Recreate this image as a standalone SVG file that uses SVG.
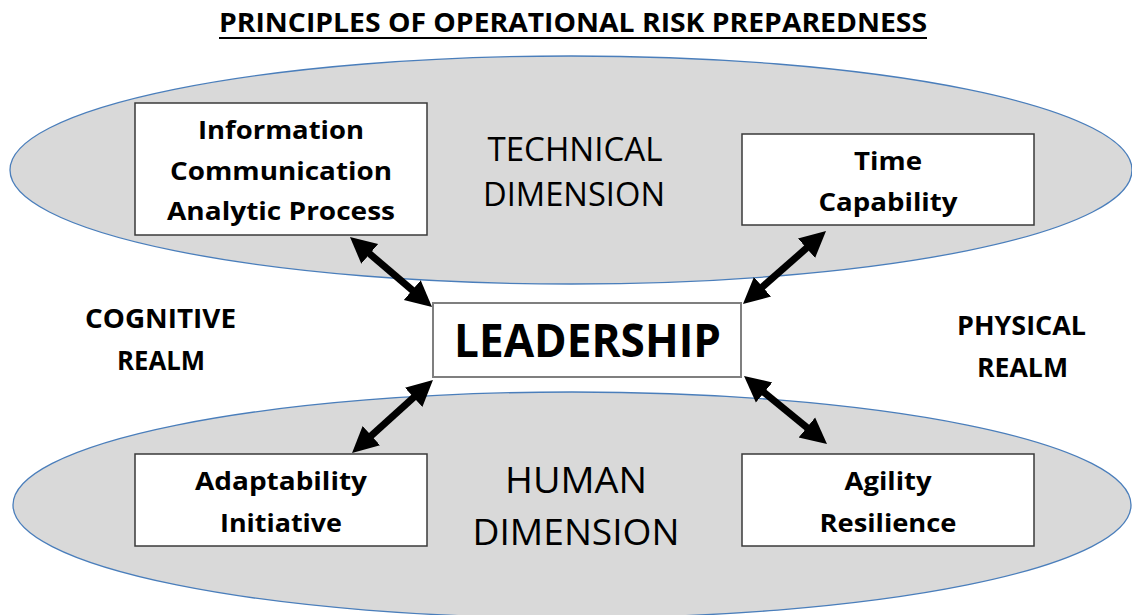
<svg xmlns="http://www.w3.org/2000/svg" width="1132" height="615" viewBox="0 0 1132 615">
<style>
.ell{fill:#d9d9d9;stroke:#4a7ebb;stroke-width:1.3}
.box{fill:#ffffff;stroke:#3a3a3a;stroke-width:1.5}
.lead{fill:#ffffff;stroke:#7f7f7f;stroke-width:2}
text{font-family:"Open Sans","Liberation Sans",sans-serif;fill:#000;text-anchor:middle}
.b{font-weight:bold}
.bt{font-weight:bold;font-size:25px}
.dim{font-size:32px}
.hum{font-size:36px}
.realm{font-weight:bold;font-size:27px}
.arr{stroke:#000;stroke-width:7;fill:none;marker-start:url(#ah);marker-end:url(#ah)}
</style>
<defs>
<marker id="ah" viewBox="0 0 10 10" markerUnits="userSpaceOnUse" markerWidth="26" markerHeight="29" refX="2.3" refY="5" orient="auto-start-reverse">
<path d="M0,0 L10,5 L0,10 z" fill="#000"/>
</marker>
</defs>
<rect x="0" y="0" width="1132" height="615" fill="#ffffff"/>
<g id="title">
<text class="b" x="573" y="32" font-size="26" textLength="708" lengthAdjust="spacingAndGlyphs">PRINCIPLES OF OPERATIONAL RISK PREPAREDNESS</text>
<line x1="219" y1="38" x2="927" y2="38" stroke="#000" stroke-width="2"/>
</g>
<g id="technical-dimension">
<ellipse class="ell" cx="571" cy="170" rx="561" ry="114"/>
<text class="dim" x="575" y="161" textLength="175" lengthAdjust="spacingAndGlyphs">TECHNICAL</text>
<text class="dim" x="574" y="206" textLength="182" lengthAdjust="spacingAndGlyphs">DIMENSION</text>
</g>
<g id="human-dimension">
<ellipse class="ell" cx="572" cy="505" rx="559" ry="113"/>
<text class="hum" x="576" y="493" textLength="142" lengthAdjust="spacingAndGlyphs">HUMAN</text>
<text class="hum" x="576" y="545" textLength="207" lengthAdjust="spacingAndGlyphs">DIMENSION</text>
</g>
<g id="cognitive-realm">
<text class="realm" x="160.5" y="328" textLength="151" lengthAdjust="spacingAndGlyphs">COGNITIVE</text>
<text class="realm" x="161" y="370" textLength="88" lengthAdjust="spacingAndGlyphs">REALM</text>
</g>
<g id="physical-realm">
<text class="realm" x="1021.5" y="335" textLength="129" lengthAdjust="spacingAndGlyphs">PHYSICAL</text>
<text class="realm" x="1022.5" y="377" textLength="91" lengthAdjust="spacingAndGlyphs">REALM</text>
</g>
<g id="connectors">
<line class="arr" x1="365.2" y1="250" x2="416.8" y2="294"/>
<line class="arr" x1="758" y1="290.8" x2="811" y2="244.2"/>
<line class="arr" x1="418.1" y1="393.4" x2="366.9" y2="439.6"/>
<line class="arr" x1="759.5" y1="388.7" x2="811.5" y2="431.3"/>
</g>
<g id="info-box">
<rect class="box" x="135" y="103" width="292" height="132"/>
<text class="bt" x="281" y="139" textLength="166" lengthAdjust="spacingAndGlyphs">Information</text>
<text class="bt" x="281" y="180" textLength="222" lengthAdjust="spacingAndGlyphs">Communication</text>
<text class="bt" x="281" y="220" textLength="228" lengthAdjust="spacingAndGlyphs">Analytic Process</text>
</g>
<g id="time-box">
<rect class="box" x="742" y="134" width="292" height="91"/>
<text class="bt" x="888" y="170" textLength="68" lengthAdjust="spacingAndGlyphs">Time</text>
<text class="bt" x="888" y="211" textLength="139" lengthAdjust="spacingAndGlyphs">Capability</text>
</g>
<g id="leadership">
<rect class="lead" x="433" y="303" width="308" height="74"/>
<text class="b" x="587.5" y="357" font-size="47" textLength="267" lengthAdjust="spacingAndGlyphs">LEADERSHIP</text>
</g>
<g id="adapt-box">
<rect class="box" x="135" y="454" width="292" height="92"/>
<text class="bt" x="281" y="490" textLength="172" lengthAdjust="spacingAndGlyphs">Adaptability</text>
<text class="bt" x="281" y="532" textLength="122" lengthAdjust="spacingAndGlyphs">Initiative</text>
</g>
<g id="agility-box">
<rect class="box" x="742" y="454" width="292" height="92"/>
<text class="bt" x="888" y="490" textLength="87" lengthAdjust="spacingAndGlyphs">Agility</text>
<text class="bt" x="888" y="532" textLength="137" lengthAdjust="spacingAndGlyphs">Resilience</text>
</g>
</svg>
